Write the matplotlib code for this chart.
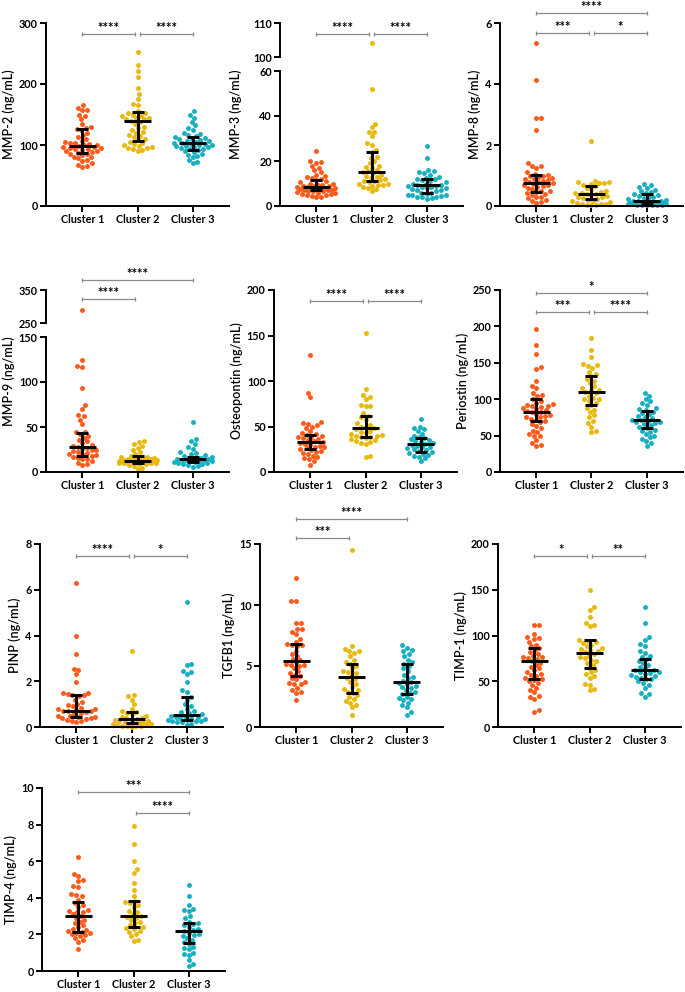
import numpy as np
import matplotlib
matplotlib.use("Agg")
import matplotlib.pyplot as plt

plt.rcParams['font.family'] = ['Lato', 'DejaVu Sans']

W, H = 685, 992
categories = ["Cluster 1", "Cluster 2", "Cluster 3"]
colors = ["#FF5A1A", "#E8B80A", "#17AFC2"]

# ---------------- data ----------------
mmp2_c1 = [165,160,158,157,150,148,143,135,130,128,127,125,120,117,113,110,107,105,104,103,102,100,100,98,97,96,95,95,94,93,92,90,90,88,87,85,85,83,80,80,78,76,73,70,68,66,64]
mmp2_c2 = [252,231,222,212,193,183,175,168,165,155,153,152,150,148,147,145,144,143,142,140,138,135,130,128,125,122,120,117,115,113,110,108,105,104,102,100,98,97,95,95,93,92,90]
mmp2_c3 = [155,150,145,138,132,128,125,120,118,116,115,113,112,110,110,108,107,106,105,104,103,102,101,100,100,99,98,97,96,95,94,93,92,90,88,86,84,82,80,75,72,70]
mmp2_med = [98, 139, 103]
mmp2_q1 = [87, 107, 92]
mmp2_q3 = [127, 154, 113]

mmp3_c1 = [24.3,20,19.5,19,18,17,16,15,14,13.5,13,12.5,12,11.5,11,10.5,10,10,9.5,9.5,9,9,8.8,8.5,8.5,8.2,8,8,7.8,7.5,7.5,7.2,7,7,6.8,6.5,6.5,6.2,6,6,5.5,5.5,5,5,4.5,4.2,4]
mmp3_c2 = [104,52,36.5,35,33,33,31,28,27,25,24,22,21.5,20,19,18,17.5,17,16,15.5,15,14.5,14,13.5,13,12.5,12,11.5,11,11,10.5,10,10,9.5,9.5,9,8.5,8,7.5,6.5]
mmp3_c3 = [26.7,21.5,16,15.5,15,14.5,14,13,12.5,12,12,11.5,11,10.5,10,10,9.5,9.5,9,9,8.5,8.5,8,8,7.5,7,7,6.5,6,6,5.5,5,5,4.8,4.5,4.2,4,3.8,3.5,3.2]
mmp3_med = [8.3, 15.3, 9.3]
mmp3_q1 = [7.0, 11.2, 5.8]
mmp3_q3 = [11.5, 24.0, 12.0]

mmp8_c1 = [5.35,4.13,2.9,2.88,2.5,1.4,1.32,1.3,1.25,1.1,1.05,1.02,1.0,0.98,0.95,0.92,0.9,0.88,0.85,0.82,0.8,0.78,0.75,0.72,0.7,0.68,0.65,0.62,0.6,0.55,0.5,0.48,0.45,0.42,0.4,0.35,0.3,0.28,0.25,0.2,0.15,0.12,0.1]
mmp8_c2 = [2.13,0.82,0.8,0.78,0.76,0.75,0.72,0.7,0.65,0.6,0.55,0.5,0.45,0.43,0.42,0.4,0.38,0.35,0.32,0.3,0.28,0.25,0.22,0.2,0.18,0.15,0.12,0.1,0.08,0.06,0.05,0.04,0.03,0.02]
mmp8_c3 = [0.72,0.68,0.62,0.58,0.52,0.48,0.45,0.42,0.38,0.35,0.32,0.3,0.28,0.25,0.22,0.2,0.18,0.17,0.15,0.14,0.13,0.12,0.11,0.1,0.1,0.09,0.08,0.08,0.07,0.07,0.06,0.06,0.05,0.05,0.04,0.04,0.03,0.03,0.02,0.02]
mmp8_med = [0.75, 0.38, 0.18]
mmp8_q1 = [0.45, 0.22, 0.07]
mmp8_q3 = [1.02, 0.65, 0.40]

mmp9_c1 = [290,125,118,117,93,75,70,63,62,58,53,45,44,42,40,38,36,34,32,30,29,28,27,26,25,24,23,22,21,20,20,19,18,17,16,15,14,12,10,9,8]
mmp9_c2 = [35,33,31,29,27,25,22,20,18,17,16.5,16,15.5,15,14.5,14,14,13.5,13,13,12.5,12.2,12,12,12,11.5,11.2,11,11,11,10.5,10,10,10,9,9,8,7,5,3]
mmp9_c3 = [56,37,35,31,28,26,22,21,20,19,18,17,16,15,15,14,14,13,13,13,12,12,12,11,11,10,10,9,9,8,7,6]
mmp9_med = [28, 12.5, 14]
mmp9_q1 = [18, 10.5, 11]
mmp9_q3 = [43, 18, 17]

opn_c1 = [129,87,82,55,54,53,52,50,48,45,43,42,41,40,39,38,37,36,35,34,33,32,31,30,29,28,27,26,25,24,23,22,21,20,18,16,15,14,12,8]
opn_c2 = [153,91,85,82,80,74,73,72,65,62,60,57,54,52,50,49,48,47,45,44,43,42,41,40,40,39,38,37,36,35,34,33,32,31,18,17]
opn_c3 = [58,50,48,47,45,42,40,38,37,36,35,34,33,32,31,30,29,28,27,26,25,24,23,22,21,20,19,18,17,15,12]
opn_med = [33, 48, 31]
opn_q1 = [25, 38, 22]
opn_q3 = [41, 62, 37]

postn_c1 = [197,175,162,144,141,125,118,115,108,106,104,100,97,95,93,92,91,90,89,88,87,85,84,83,82,80,78,77,76,75,73,72,70,68,66,63,60,57,55,52,50,49,44,40,37,36]
postn_c2 = [184,168,158,148,147,145,143,138,135,132,128,125,122,118,115,113,112,110,108,105,102,100,100,98,95,92,88,85,82,78,75,70,67,62,57,55]
postn_c3 = [109,105,100,97,95,92,88,86,85,83,81,79,77,75,74,72,71,70,69,68,67,66,64,62,60,58,57,55,52,50,48,46,43,40,36]
postn_med = [82, 110, 71]
postn_q1 = [70, 92, 60]
postn_q3 = [100, 132, 84]

pinp_c1 = [6.3,4.0,3.2,2.55,2.5,2.3,1.95,1.5,1.48,1.45,1.4,1.38,1.35,1.2,1.1,1.0,0.95,0.9,0.85,0.8,0.78,0.75,0.72,0.7,0.68,0.65,0.6,0.55,0.5,0.48,0.45,0.42,0.4,0.38,0.35,0.3,0.28,0.25,0.22]
pinp_c2 = [3.32,1.4,1.35,1.2,1.0,0.8,0.7,0.65,0.6,0.55,0.5,0.45,0.4,0.38,0.35,0.32,0.3,0.28,0.25,0.22,0.2,0.18,0.16,0.15,0.14,0.12,0.1,0.08,0.06,0.05,0.04,0.03,0.02]
pinp_c3 = [5.45,2.75,2.7,2.45,2.4,2.3,1.95,1.6,1.55,1.3,1.2,1.0,0.9,0.8,0.7,0.65,0.6,0.55,0.5,0.48,0.45,0.42,0.4,0.38,0.35,0.32,0.3,0.28,0.26,0.25,0.22,0.2,0.15,0.1]
pinp_med = [0.72, 0.35, 0.52]
pinp_q1 = [0.45, 0.18, 0.30]
pinp_q3 = [1.38, 0.65, 1.30]

tgfb1_c1 = [12.2,10.3,10.3,8.5,8.5,8.0,8.0,7.8,7.6,7.2,7.0,6.8,6.7,6.7,6.6,6.2,6.0,5.8,5.6,5.5,5.3,5.2,5.1,5.1,5.0,4.8,4.6,4.4,4.3,4.2,4.0,3.9,3.7,3.6,3.5,3.5,3.2,3.0,2.9,2.8,2.2]
tgfb1_c2 = [14.5,6.6,6.4,6.2,6.2,6.1,5.8,5.5,5.3,5.2,5.0,4.8,4.6,4.5,4.4,4.2,4.0,3.9,3.7,3.5,3.3,3.1,3.0,2.9,2.8,2.6,2.5,2.3,2.1,2.0,1.8,1.6,1.0]
tgfb1_c3 = [6.7,6.5,6.3,6.2,6.0,5.8,5.5,5.3,5.2,5.0,4.8,4.6,4.3,4.1,4.0,3.8,3.7,3.6,3.5,3.4,3.3,3.2,3.0,2.9,2.8,2.7,2.5,2.4,2.3,2.2,2.0,1.8,1.6,1.2,1.0]
tgfb1_med = [5.4, 4.1, 3.7]
tgfb1_q1 = [4.2, 2.8, 2.7]
tgfb1_q3 = [6.8, 5.2, 5.2]

timp1_c1 = [112,112,102,98,97,96,93,90,88,86,84,82,80,78,77,76,75,74,72,70,68,66,64,62,60,58,57,56,54,52,51,50,48,46,43,40,38,34,33,31,19,16]
timp1_c2 = [150,131,128,120,114,112,110,95,94,93,92,90,88,86,85,84,83,82,80,78,76,75,73,72,70,68,65,62,60,58,56,54,47,46,42,40]
timp1_c3 = [131,114,98,95,91,88,83,81,78,76,74,72,70,68,66,64,62,62,60,60,59,58,57,56,55,54,53,52,50,48,46,43,37,36,33]
timp1_med = [72, 81, 62]
timp1_q1 = [52, 65, 52]
timp1_q3 = [86, 95, 74]

timp4_c1 = [6.25,5.3,5.2,5.0,4.9,4.65,4.6,4.2,4.15,4.1,3.9,3.7,3.6,3.5,3.35,3.3,3.25,3.2,3.1,3.0,2.9,2.8,2.7,2.6,2.5,2.4,2.3,2.25,2.2,2.15,2.1,2.05,2.0,1.95,1.9,1.8,1.7,1.6,1.2]
timp4_c2 = [7.9,6.95,6.0,5.55,5.35,4.8,4.4,4.1,3.8,3.75,3.7,3.6,3.5,3.3,3.2,3.1,3.0,2.95,2.9,2.8,2.7,2.6,2.5,2.4,2.35,2.3,2.2,2.15,2.0,1.9,1.7,1.65]
timp4_c3 = [4.7,4.1,3.6,3.4,3.35,3.3,3.0,2.9,2.7,2.6,2.55,2.5,2.4,2.3,2.25,2.2,2.1,2.0,1.95,1.9,1.8,1.7,1.6,1.5,1.3,1.25,1.2,1.0,0.95,0.9,0.6,0.4,0.25]
timp4_med = [3.0, 3.0, 2.2]
timp4_q1 = [2.15, 2.4, 1.55]
timp4_q3 = [3.75, 3.8, 2.6]

# ---------------- layout / styles ----------------
XLIM = (-0.66, 2.66)
AX_W = 183

panels = [
    dict(ylabel="MMP-2 (ng/mL)", data=[mmp2_c1, mmp2_c2, mmp2_c3], med=mmp2_med, q1=mmp2_q1, q3=mmp2_q3,
         ylim=(0, 300), yticks=[0, 100, 200, 300], box=(46, 23, 206),
         brackets=[(0, 1, "****", 282), (1, 2, "****", 282)]),
    dict(ylabel="MMP-3 (ng/mL)", data=[mmp3_c1, mmp3_c2, mmp3_c3], med=mmp3_med, q1=mmp3_q1, q3=mmp3_q3,
         ylim=(0, 60), yticks=[0, 20, 40, 60], box=(280, 71, 206),
         top=dict(ylim=(100, 110), yticks=[100, 110], box=(23, 57)), labx=-0.205,
         brackets=[(0, 1, "****", 106.8), (1, 2, "****", 106.8)]),
    dict(ylabel="MMP-8 (ng/mL)", data=[mmp8_c1, mmp8_c2, mmp8_c3], med=mmp8_med, q1=mmp8_q1, q3=mmp8_q3,
         ylim=(0, 6), yticks=[0, 2, 4, 6], box=(500, 23, 206),
         brackets=[(0, 2, "****", 6.33), (0, 1, "***", 5.67), (1, 2, "*", 5.67)]),
    dict(ylabel="MMP-9 (ng/mL)", data=[mmp9_c1, mmp9_c2, mmp9_c3], med=mmp9_med, q1=mmp9_q1, q3=mmp9_q3,
         ylim=(0, 150), yticks=[0, 50, 100, 150], box=(46, 337, 472),
         top=dict(ylim=(250, 350), yticks=[250, 350], box=(290, 323)), labx=-0.17,
         brackets=[(0, 2, "****", 380), (0, 1, "****", 323)]),
    dict(ylabel="Osteopontin (ng/mL)", data=[opn_c1, opn_c2, opn_c3], med=opn_med, q1=opn_q1, q3=opn_q3,
         ylim=(0, 200), yticks=[0, 50, 100, 150, 200], box=(274, 290, 472),
         brackets=[(0, 1, "****", 188), (1, 2, "****", 188)]),
    dict(ylabel="Periostin (ng/mL)", data=[postn_c1, postn_c2, postn_c3], med=postn_med, q1=postn_q1, q3=postn_q3,
         ylim=(0, 250), yticks=[0, 50, 100, 150, 200, 250], box=(500, 290, 472),
         brackets=[(0, 2, "*", 246), (0, 1, "***", 220), (1, 2, "****", 220)]),
    dict(ylabel="PINP (ng/mL)", data=[pinp_c1, pinp_c2, pinp_c3], med=pinp_med, q1=pinp_q1, q3=pinp_q3,
         ylim=(0, 8), yticks=[0, 2, 4, 6, 8], box=(40, 544, 727),
         brackets=[(0, 1, "****", 7.48), (1, 2, "*", 7.48)]),
    dict(ylabel="TGFB1 (ng/mL)", data=[tgfb1_c1, tgfb1_c2, tgfb1_c3], med=tgfb1_med, q1=tgfb1_q1, q3=tgfb1_q3,
         ylim=(0, 15), yticks=[0, 5, 10, 15], box=(260, 544, 727),
         brackets=[(0, 2, "****", 17.05), (0, 1, "***", 15.5)]),
    dict(ylabel="TIMP-1 (ng/mL)", data=[timp1_c1, timp1_c2, timp1_c3], med=timp1_med, q1=timp1_q1, q3=timp1_q3,
         ylim=(0, 200), yticks=[0, 50, 100, 150, 200], box=(498, 544, 727),
         brackets=[(0, 1, "*", 187), (1, 2, "**", 187)]),
    dict(ylabel="TIMP-4 (ng/mL)", data=[timp4_c1, timp4_c2, timp4_c3], med=timp4_med, q1=timp4_q1, q3=timp4_q3,
         ylim=(0, 10), yticks=[0, 2, 4, 6, 8, 10], box=(42, 788, 971),
         brackets=[(0, 2, "***", 9.78), (1, 2, "****", 8.63)]),
]

TICKFS = 7.8
LABELFS = 9.0
STARFS = 9.5
SPINE_LW = 1.4
DOT_D = 5.0   # px between dot centres
DOT_S = 12.5
MAXW = 19.0   # px max half-width of a swarm


def beeswarm(vals, ky, kx, d=DOT_D, maxw=MAXW):
    yp = np.asarray(vals, float) * ky
    order = np.argsort(yp)
    xs = np.zeros(len(yp))
    placed = []
    flip = False
    grid = np.linspace(-maxw, maxw, 39)
    for idx in order:
        y = yp[idx]
        near = [(xj, yj) for xj, yj in placed if abs(yj - y) < d]
        cands = [0.0]
        for xj, yj in near:
            dx = np.sqrt(d * d - (yj - y) ** 2)
            cands += [xj + dx, xj - dx]
        sgn = 1 if flip else -1
        cands = [c for c in cands if abs(c) <= maxw + 1e-6]
        cands.sort(key=lambda c: abs(c) + 1e-6 * (sgn * c > 0))
        chosen = None
        for c in cands:
            if all((c - xj) ** 2 + (y - yj) ** 2 >= d * d - 1e-6 for xj, yj in near):
                chosen = c
                break
        if chosen is None:
            best, bscore = 0.0, -1
            for g in grid:
                sc = min((g - xj) ** 2 + (y - yj) ** 2 for xj, yj in near) - 1e-4 * abs(g)
                if sc > bscore:
                    best, bscore = g, sc
            chosen = best
        xs[idx] = chosen
        if chosen != 0:
            flip = not flip
        placed.append((chosen, y))
    return xs / kx


def fig_rect(x0, ytop, ybot):
    return [x0 / W, 1 - ybot / H, AX_W / W, (ybot - ytop) / H]


def style_axis(ax, ylim, yticks, xaxis=True):
    ax.set_xlim(*XLIM)
    ax.set_ylim(*ylim)
    ax.set_yticks(yticks)
    ax.set_yticklabels([str(t) for t in yticks], fontsize=TICKFS, fontweight='bold')
    for s in ['top', 'right']:
        ax.spines[s].set_visible(False)
    ax.spines['left'].set_linewidth(SPINE_LW)
    ax.tick_params(axis='y', length=4.5, width=SPINE_LW, pad=1.5)
    if xaxis:
        ax.spines['bottom'].set_linewidth(SPINE_LW)
        ax.set_xticks([0, 1, 2])
        ax.set_xticklabels(categories, fontsize=TICKFS, fontweight='bold')
        ax.tick_params(axis='x', length=4, width=SPINE_LW, pad=2)
    else:
        ax.spines['bottom'].set_visible(False)
        ax.set_xticks([])
    ax.patch.set_alpha(0)


def draw_points(ax, data, ylim, h_px):
    ky = h_px / (ylim[1] - ylim[0])
    kx = AX_W / (XLIM[1] - XLIM[0])
    for i, vals in enumerate(data):
        v = np.array([x for x in vals if ylim[0] <= x <= ylim[1]], float)
        if len(v) == 0:
            continue
        off = beeswarm(v - ylim[0], ky, kx)
        ax.scatter(i + off, v, s=DOT_S, color=colors[i], linewidths=0, zorder=2, clip_on=False)


fig = plt.figure(figsize=(W / 100, H / 100), dpi=100)

for p in panels:
    x0, yt, yb = p['box']
    ax = fig.add_axes(fig_rect(x0, yt, yb))
    style_axis(ax, p['ylim'], p['yticks'])
    draw_points(ax, p['data'], p['ylim'], yb - yt)
    for i in range(3):
        m, a, b = p['med'][i], p['q1'][i], p['q3'][i]
        ax.errorbar(i, m, yerr=[[m - a], [b - m]], fmt='none', ecolor='black',
                    elinewidth=2.1, capsize=4.4, capthick=2.1, zorder=4)
        ax.hlines(m, i - 0.25, i + 0.25, colors='black', linewidth=2.1, zorder=4)
    bax = ax
    if 'top' in p:
        t = p['top']
        tt, tb = t['box']
        tax = fig.add_axes(fig_rect(x0, tt, tb))
        style_axis(tax, t['ylim'], t['yticks'], xaxis=False)
        draw_points(tax, p['data'], t['ylim'], tb - tt)
        bax = tax
        ax.set_ylabel(p['ylabel'], fontsize=LABELFS, fontweight='semibold')
        center = (tt + yb) / 2.0
        ax.yaxis.set_label_coords(p['labx'], (yb - center) / (yb - yt))
    else:
        ax.set_ylabel(p['ylabel'], fontsize=LABELFS, fontweight='semibold', labelpad=3)
    for (i, j, lab, y) in p['brackets']:
        xa = i + (0.04 if i == 1 else 0)
        xb = j - (0.04 if j == 1 else 0)
        bax.plot([xa, xb], [y, y], color='#8a8a8a', lw=0.9, marker='|', markersize=3.5,
                 markeredgewidth=0.9, clip_on=False, zorder=3)
        bax.annotate(lab, xy=((xa + xb) / 2, y), xytext=(0, 0.0), textcoords='offset points',
                     ha='center', va='bottom', fontsize=STARFS, fontweight='bold',
                     annotation_clip=False)

fig.savefig("out.png", dpi=100)
